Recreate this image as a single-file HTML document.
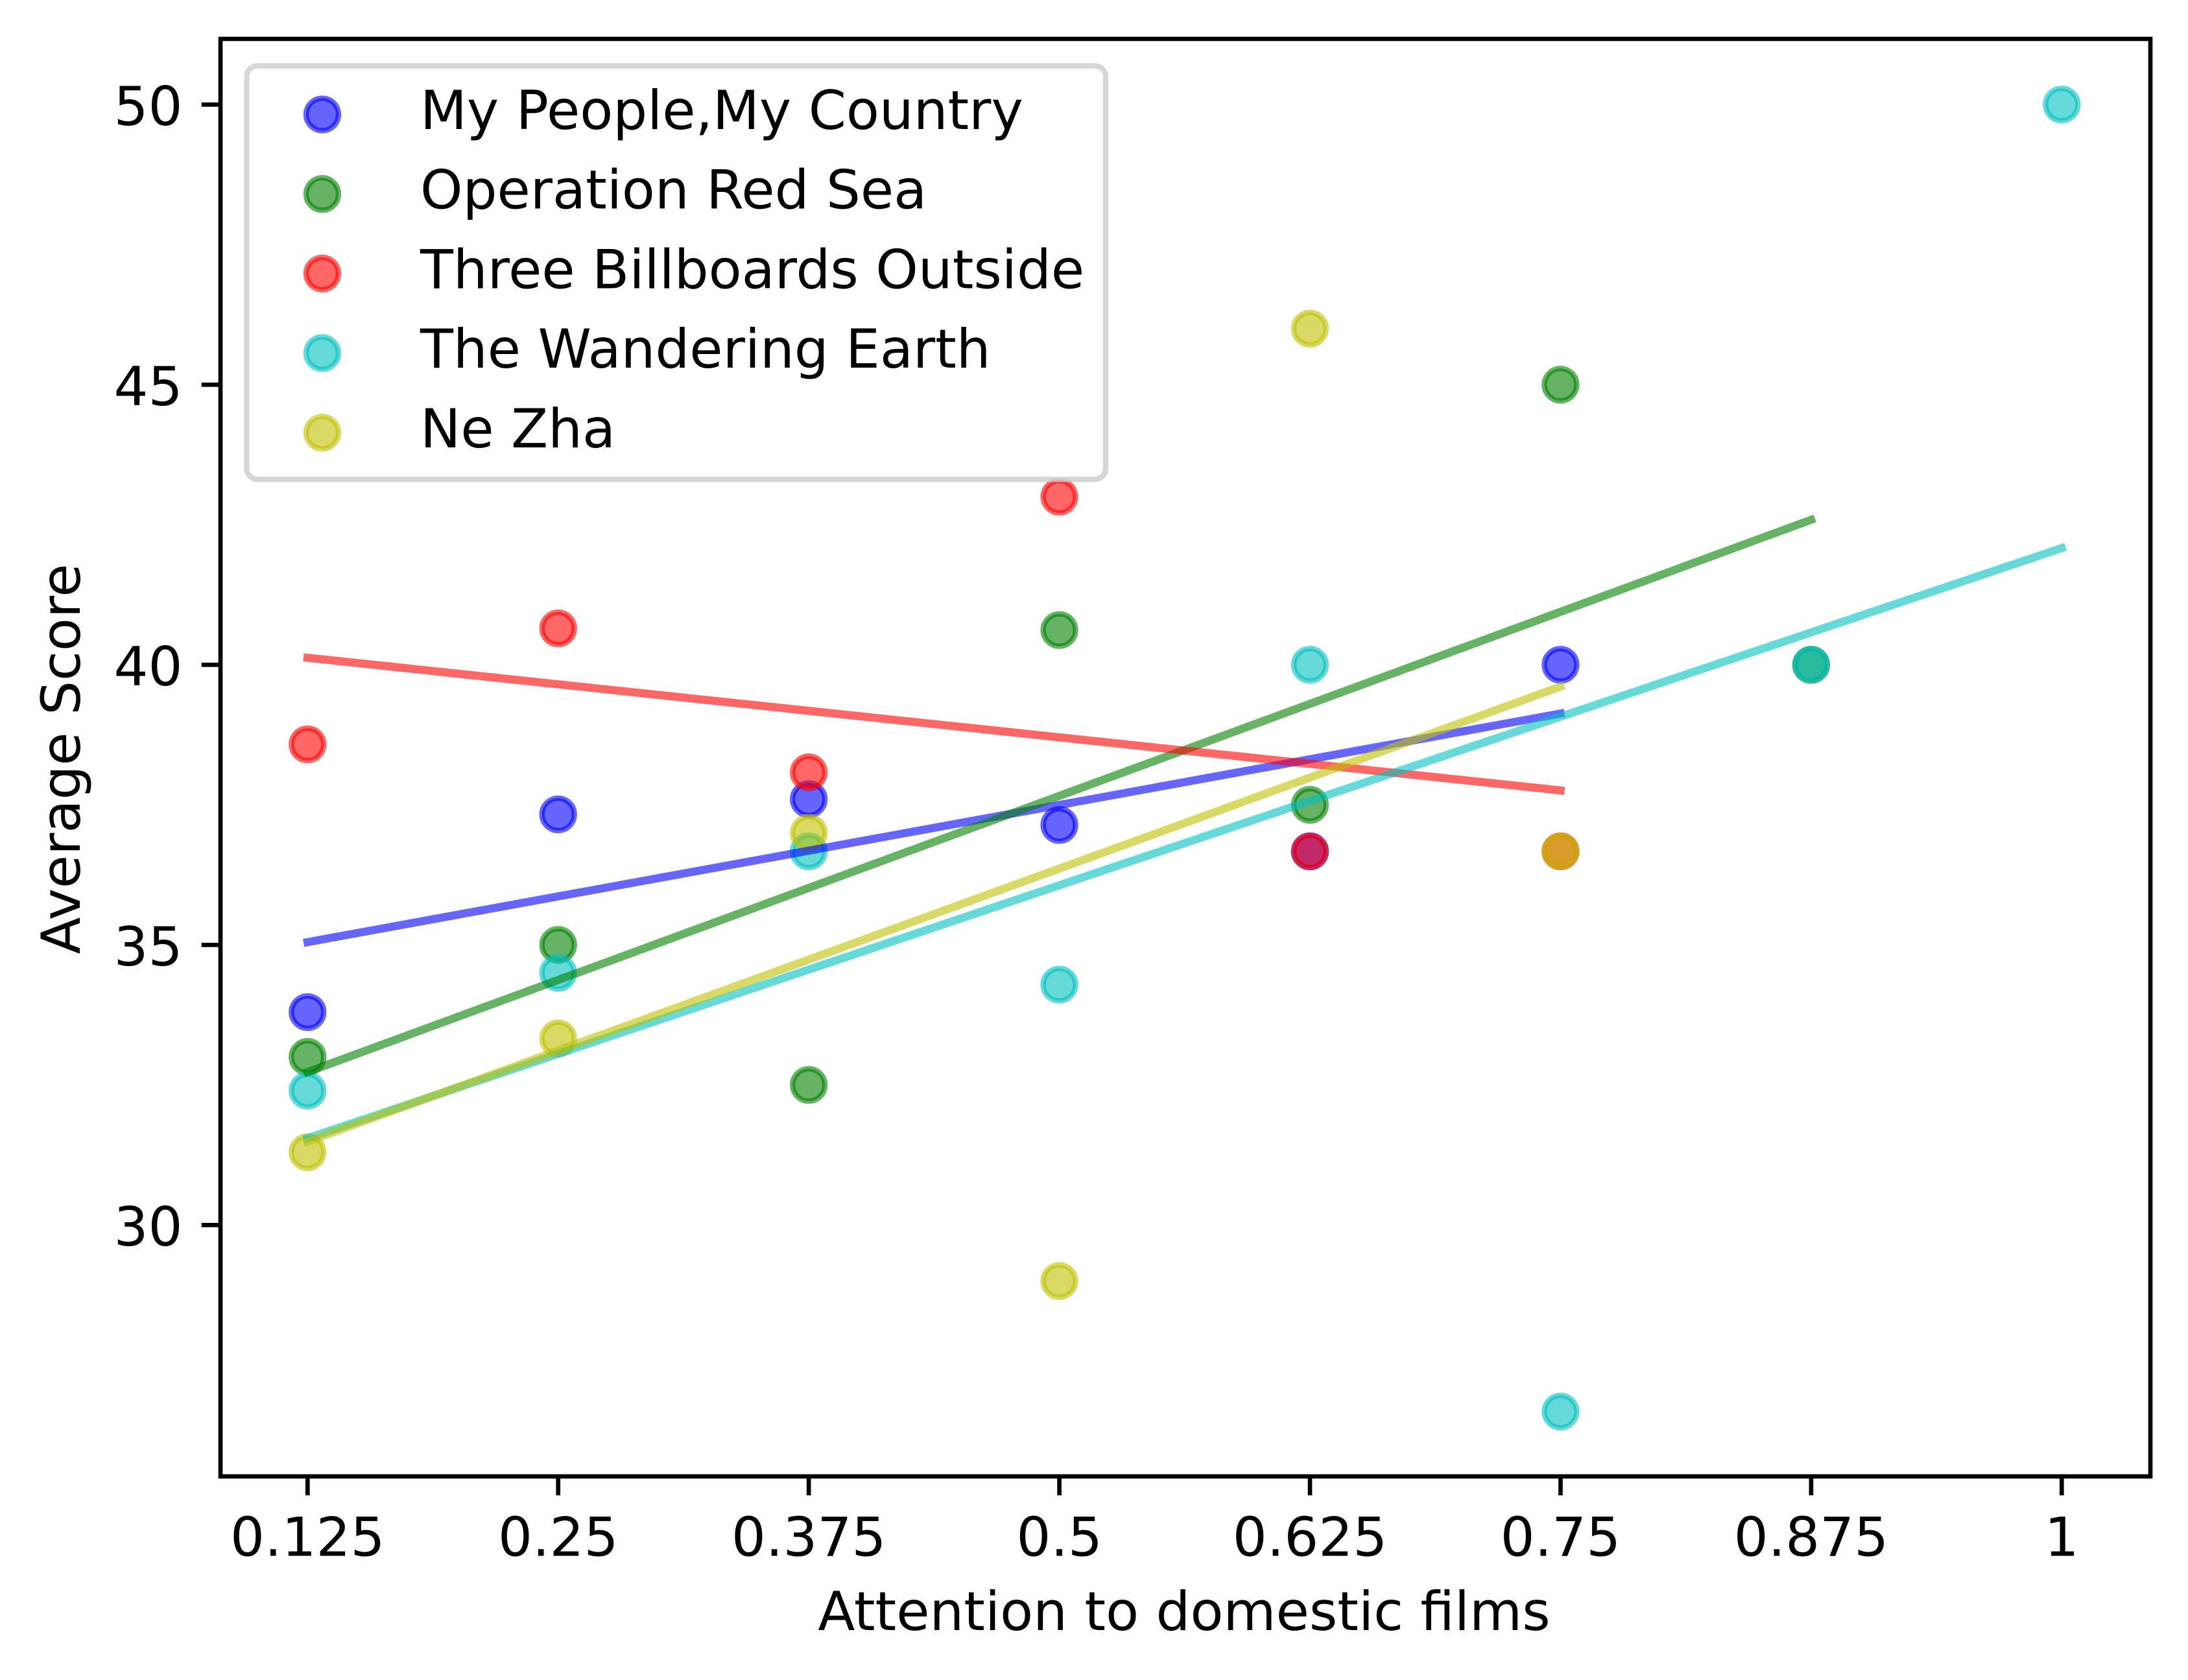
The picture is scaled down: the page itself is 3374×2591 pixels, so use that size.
<!DOCTYPE html>
<html>
<head>
<meta charset="utf-8">
<title>Average Score vs Attention to domestic films</title>
<style>
html,body{margin:0;padding:0;background:#fff;}
svg{display:block;}
text{font-family:"DejaVu Sans","Liberation Sans",sans-serif;font-size:83.33px;fill:#000;}
</style>
</head>
<body>
<svg id="chart" xmlns="http://www.w3.org/2000/svg" width="3374" height="2591" viewBox="0 0 3374 2591">
<rect x="0" y="0" width="3374" height="2591" fill="#fff"/>
<g id="points"></g>
<g id="trends"></g>
<g id="xticks"></g>
<g id="yticks"></g>
<rect x="340" y="60" width="2976" height="2217" fill="none" stroke="#000" stroke-width="6.67"/>
<text x="1826" y="2514" text-anchor="middle">Attention to domestic films</text>
<text x="123" y="1170.5" text-anchor="middle" transform="rotate(-90 123 1170.5)">Average Score</text>
<g id="legend">
<rect x="380.5" y="101.5" width="1324.5" height="637.8" rx="16.7" ry="16.7" fill="#fff" fill-opacity="0.8" stroke="#ccc" stroke-opacity="0.8" stroke-width="8.33"/>
</g>
</svg>
<script>
const xTickLabels = ['0.125', '0.25', '0.375', '0.5', '0.625', '0.75', '0.875', '1'];
const xTickValues = [0.125, 0.25, 0.375, 0.5, 0.625, 0.75, 0.875, 1];
const yTickValues = [30, 35, 40, 45, 50];

const seriesNames = ['My People,My Country', 'Operation Red Sea', 'Three Billboards Outside', 'The Wandering Earth', 'Ne Zha'];
const seriesColors = ['#0000ff', '#008000', '#ff0000', '#00bfbf', '#bfbf00'];
const seriesKeys = ['my-people', 'operation-red-sea', 'three-billboards', 'wandering-earth', 'ne-zha'];

const myPeopleX = [0.125, 0.25, 0.375, 0.5, 0.625, 0.75];
const myPeopleY = [33.8, 37.33, 37.6, 37.14, 36.67, 40];
const redSeaX = [0.125, 0.25, 0.375, 0.5, 0.625, 0.75, 0.875];
const redSeaY = [33, 35, 32.5, 40.62, 37.5, 45, 40];
const billboardsX = [0.125, 0.25, 0.375, 0.5, 0.625, 0.75];
const billboardsY = [38.58, 40.65, 38.08, 43, 36.67, 36.67];
const wanderingX = [0.125, 0.25, 0.375, 0.5, 0.625, 0.75, 0.875, 1];
const wanderingY = [32.4, 34.5, 36.67, 34.29, 40, 26.67, 40, 50];
const neZhaX = [0.125, 0.25, 0.375, 0.5, 0.625, 0.75];
const neZhaY = [31.3, 33.33, 37, 29, 46, 36.67];

const allX = [myPeopleX, redSeaX, billboardsX, wanderingX, neZhaX];
const allY = [myPeopleY, redSeaY, billboardsY, wanderingY, neZhaY];

const NS = 'http://www.w3.org/2000/svg';
const plot = { bottom: 2277, left: 340 };
const xRange = [474.3, 3179.3];
const yRange = [2177.3, 161.3];
const xDomain = [0.125, 1];
const yDomain = [80 / 3, 50];

function scaleX(v) {
  return xRange[0] + (v - xDomain[0]) / (xDomain[1] - xDomain[0]) * (xRange[1] - xRange[0]);
}
function scaleY(v) {
  return yRange[0] + (v - yDomain[0]) / (yDomain[1] - yDomain[0]) * (yRange[1] - yRange[0]);
}
function make(tag, attrs, parent) {
  const el = document.createElementNS(NS, tag);
  for (const k in attrs) el.setAttribute(k, attrs[k]);
  parent.appendChild(el);
  return el;
}
function fitLine(xs, ys) {
  const n = xs.length;
  const mx = xs.reduce((a, b) => a + b, 0) / n;
  const my = ys.reduce((a, b) => a + b, 0) / n;
  let sxy = 0, sxx = 0;
  for (let i = 0; i < n; i++) {
    sxy += (xs[i] - mx) * (ys[i] - my);
    sxx += (xs[i] - mx) * (xs[i] - mx);
  }
  const slope = sxy / sxx;
  return { slope: slope, intercept: my - slope * mx };
}
function dotAttrs(cx, cy, color) {
  return { cx: cx, cy: cy, r: 25, fill: color, 'fill-opacity': 0.6, stroke: color, 'stroke-opacity': 0.6, 'stroke-width': 8.33 };
}

const pointsG = document.getElementById('points');
const trendsG = document.getElementById('trends');
const xticksG = document.getElementById('xticks');
const yticksG = document.getElementById('yticks');
const legendG = document.getElementById('legend');

seriesNames.forEach(function (name, s) {
  const xs = allX[s], ys = allY[s];
  xs.forEach(function (x, i) {
    const dot = make('circle', dotAttrs(scaleX(x), scaleY(ys[i]), seriesColors[s]), pointsG);
    
    
  });
});

seriesNames.forEach(function (name, s) {
  const xs = allX[s], ys = allY[s];
  const fit = fitLine(xs, ys);
  const x0 = Math.min.apply(null, xs), x1 = Math.max.apply(null, xs);
  const line = make('line', {
    x1: scaleX(x0), y1: scaleY(fit.slope * x0 + fit.intercept),
    x2: scaleX(x1), y2: scaleY(fit.slope * x1 + fit.intercept),
    stroke: seriesColors[s], 'stroke-opacity': 0.6, 'stroke-width': 12.5, 'stroke-linecap': 'square'
  }, trendsG);
  
  
});

xTickValues.forEach(function (v, i) {
  const px = scaleX(v);
  const tick = make('line', { x1: px, y1: plot.bottom, x2: px, y2: plot.bottom + 29.2, stroke: '#000', 'stroke-width': 6.67 }, xticksG);
  
  
  const label = make('text', { x: px, y: 2399.5, 'text-anchor': 'middle' }, xticksG);
  
  
  label.textContent = xTickLabels[i];
});

yTickValues.forEach(function (v) {
  const py = scaleY(v);
  const tick = make('line', { x1: plot.left, y1: py, x2: plot.left - 29.2, y2: py, stroke: '#000', 'stroke-width': 6.67 }, yticksG);
  
  
  const label = make('text', { x: 281.5, y: py + 31.5, 'text-anchor': 'end' }, yticksG);
  
  
  label.textContent = String(v);
});

seriesNames.forEach(function (name, s) {
  const rowY = 176.5 + s * 122.7;
  const swatch = make('circle', dotAttrs(497, rowY, seriesColors[s]), legendG);
  
  
  const label = make('text', { x: 648, y: rowY + 22.5 }, legendG);
  
  
  label.textContent = name;
});
</script>
</body>
</html>
